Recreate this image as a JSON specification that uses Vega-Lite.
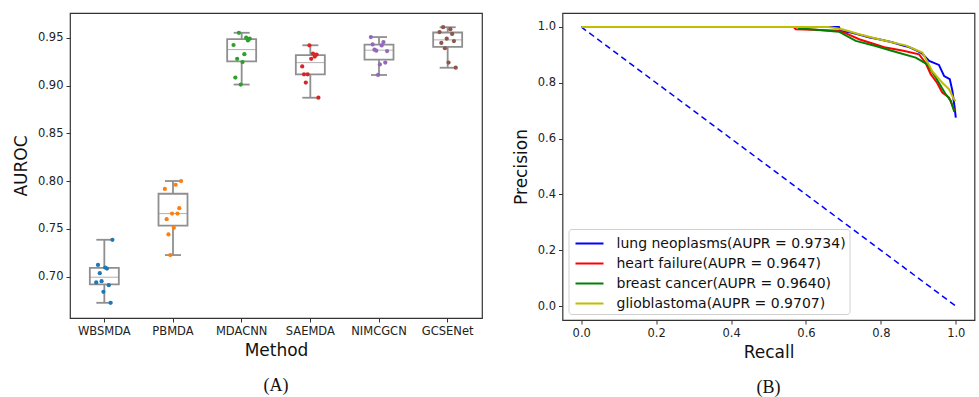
{
  "$schema": "https://vega.github.io/schema/vega-lite/v6.json",
  "background": "white",
  "padding": {"left": 11, "top": 12, "right": 2, "bottom": 0},
  "spacing": 28.5,
  "resolve": {"scale": {"color": "independent"}, "legend": {"color": "independent"}},
  "datasets": {
    "auroc": [
      {"method": "WBSMDA", "run": 1, "auroc": 0.6938},
      {"method": "WBSMDA", "run": 2, "auroc": 0.7121},
      {"method": "WBSMDA", "run": 3, "auroc": 0.7035},
      {"method": "WBSMDA", "run": 4, "auroc": 0.6951},
      {"method": "WBSMDA", "run": 5, "auroc": 0.6840},
      {"method": "WBSMDA", "run": 6, "auroc": 0.7094},
      {"method": "WBSMDA", "run": 7, "auroc": 0.7083},
      {"method": "WBSMDA", "run": 8, "auroc": 0.6910},
      {"method": "WBSMDA", "run": 9, "auroc": 0.6725},
      {"method": "WBSMDA", "run": 10, "auroc": 0.7385},
      {"method": "PBMDA", "run": 1, "auroc": 0.7917},
      {"method": "PBMDA", "run": 2, "auroc": 0.7600},
      {"method": "PBMDA", "run": 3, "auroc": 0.7441},
      {"method": "PBMDA", "run": 4, "auroc": 0.7225},
      {"method": "PBMDA", "run": 5, "auroc": 0.7659},
      {"method": "PBMDA", "run": 6, "auroc": 0.7510},
      {"method": "PBMDA", "run": 7, "auroc": 0.7961},
      {"method": "PBMDA", "run": 8, "auroc": 0.7659},
      {"method": "PBMDA", "run": 9, "auroc": 0.7715},
      {"method": "PBMDA", "run": 10, "auroc": 0.8000},
      {"method": "MDACNN", "run": 1, "auroc": 0.9424},
      {"method": "MDACNN", "run": 2, "auroc": 0.9083},
      {"method": "MDACNN", "run": 3, "auroc": 0.9279},
      {"method": "MDACNN", "run": 4, "auroc": 0.9552},
      {"method": "MDACNN", "run": 5, "auroc": 0.9010},
      {"method": "MDACNN", "run": 6, "auroc": 0.9245},
      {"method": "MDACNN", "run": 7, "auroc": 0.9328},
      {"method": "MDACNN", "run": 8, "auroc": 0.9500},
      {"method": "MDACNN", "run": 9, "auroc": 0.9472},
      {"method": "MDACNN", "run": 10, "auroc": 0.9490},
      {"method": "SAEMDA", "run": 1, "auroc": 0.9200},
      {"method": "SAEMDA", "run": 2, "auroc": 0.9117},
      {"method": "SAEMDA", "run": 3, "auroc": 0.9031},
      {"method": "SAEMDA", "run": 4, "auroc": 0.9117},
      {"method": "SAEMDA", "run": 5, "auroc": 0.9421},
      {"method": "SAEMDA", "run": 6, "auroc": 0.9279},
      {"method": "SAEMDA", "run": 7, "auroc": 0.9334},
      {"method": "SAEMDA", "run": 8, "auroc": 0.9303},
      {"method": "SAEMDA", "run": 9, "auroc": 0.9324},
      {"method": "SAEMDA", "run": 10, "auroc": 0.8872},
      {"method": "NIMCGCN", "run": 1, "auroc": 0.9507},
      {"method": "NIMCGCN", "run": 2, "auroc": 0.9430},
      {"method": "NIMCGCN", "run": 3, "auroc": 0.9375},
      {"method": "NIMCGCN", "run": 4, "auroc": 0.9365},
      {"method": "NIMCGCN", "run": 5, "auroc": 0.9110},
      {"method": "NIMCGCN", "run": 6, "auroc": 0.9220},
      {"method": "NIMCGCN", "run": 7, "auroc": 0.9420},
      {"method": "NIMCGCN", "run": 8, "auroc": 0.9455},
      {"method": "NIMCGCN", "run": 9, "auroc": 0.9240},
      {"method": "NIMCGCN", "run": 10, "auroc": 0.9360},
      {"method": "GCSENet", "run": 1, "auroc": 0.9560},
      {"method": "GCSENet", "run": 2, "auroc": 0.9445},
      {"method": "GCSENet", "run": 3, "auroc": 0.9610},
      {"method": "GCSENet", "run": 4, "auroc": 0.9390},
      {"method": "GCSENet", "run": 5, "auroc": 0.9490},
      {"method": "GCSENet", "run": 6, "auroc": 0.9240},
      {"method": "GCSENet", "run": 7, "auroc": 0.9590},
      {"method": "GCSENet", "run": 8, "auroc": 0.9540},
      {"method": "GCSENet", "run": 9, "auroc": 0.9465},
      {"method": "GCSENet", "run": 10, "auroc": 0.9186}
    ],
    "diag": [
      {"recall": 0.0, "precision": 1.0},
      {"recall": 1.0, "precision": 0.0}
    ],
    "pr": [
      {"curve": "lung neoplasms(AUPR = 0.9734)", "recall": 0.0, "precision": 1.0},
      {"curve": "lung neoplasms(AUPR = 0.9734)", "recall": 0.688, "precision": 1.0},
      {"curve": "lung neoplasms(AUPR = 0.9734)", "recall": 0.693, "precision": 0.986},
      {"curve": "lung neoplasms(AUPR = 0.9734)", "recall": 0.72, "precision": 0.98},
      {"curve": "lung neoplasms(AUPR = 0.9734)", "recall": 0.746, "precision": 0.971},
      {"curve": "lung neoplasms(AUPR = 0.9734)", "recall": 0.77, "precision": 0.962},
      {"curve": "lung neoplasms(AUPR = 0.9734)", "recall": 0.795, "precision": 0.956},
      {"curve": "lung neoplasms(AUPR = 0.9734)", "recall": 0.83, "precision": 0.945},
      {"curve": "lung neoplasms(AUPR = 0.9734)", "recall": 0.857, "precision": 0.934},
      {"curve": "lung neoplasms(AUPR = 0.9734)", "recall": 0.875, "precision": 0.928},
      {"curve": "lung neoplasms(AUPR = 0.9734)", "recall": 0.893, "precision": 0.917},
      {"curve": "lung neoplasms(AUPR = 0.9734)", "recall": 0.91, "precision": 0.905},
      {"curve": "lung neoplasms(AUPR = 0.9734)", "recall": 0.929, "precision": 0.878},
      {"curve": "lung neoplasms(AUPR = 0.9734)", "recall": 0.955, "precision": 0.864},
      {"curve": "lung neoplasms(AUPR = 0.9734)", "recall": 0.969, "precision": 0.824},
      {"curve": "lung neoplasms(AUPR = 0.9734)", "recall": 0.984, "precision": 0.813},
      {"curve": "lung neoplasms(AUPR = 0.9734)", "recall": 0.991, "precision": 0.771},
      {"curve": "lung neoplasms(AUPR = 0.9734)", "recall": 0.997, "precision": 0.711},
      {"curve": "lung neoplasms(AUPR = 0.9734)", "recall": 1.0, "precision": 0.675},
      {"curve": "heart failure(AUPR = 0.9647)", "recall": 0.0, "precision": 1.0},
      {"curve": "heart failure(AUPR = 0.9647)", "recall": 0.567, "precision": 1.0},
      {"curve": "heart failure(AUPR = 0.9647)", "recall": 0.573, "precision": 0.992},
      {"curve": "heart failure(AUPR = 0.9647)", "recall": 0.62, "precision": 0.99},
      {"curve": "heart failure(AUPR = 0.9647)", "recall": 0.688, "precision": 0.986},
      {"curve": "heart failure(AUPR = 0.9647)", "recall": 0.71, "precision": 0.975},
      {"curve": "heart failure(AUPR = 0.9647)", "recall": 0.742, "precision": 0.956},
      {"curve": "heart failure(AUPR = 0.9647)", "recall": 0.78, "precision": 0.94},
      {"curve": "heart failure(AUPR = 0.9647)", "recall": 0.813, "precision": 0.926},
      {"curve": "heart failure(AUPR = 0.9647)", "recall": 0.86, "precision": 0.915},
      {"curve": "heart failure(AUPR = 0.9647)", "recall": 0.902, "precision": 0.902},
      {"curve": "heart failure(AUPR = 0.9647)", "recall": 0.92, "precision": 0.87},
      {"curve": "heart failure(AUPR = 0.9647)", "recall": 0.933, "precision": 0.831},
      {"curve": "heart failure(AUPR = 0.9647)", "recall": 0.95, "precision": 0.8},
      {"curve": "heart failure(AUPR = 0.9647)", "recall": 0.964, "precision": 0.765},
      {"curve": "heart failure(AUPR = 0.9647)", "recall": 0.982, "precision": 0.747},
      {"curve": "heart failure(AUPR = 0.9647)", "recall": 0.995, "precision": 0.705},
      {"curve": "heart failure(AUPR = 0.9647)", "recall": 1.0, "precision": 0.7},
      {"curve": "breast cancer(AUPR = 0.9640)", "recall": 0.0, "precision": 1.0},
      {"curve": "breast cancer(AUPR = 0.9640)", "recall": 0.58, "precision": 1.0},
      {"curve": "breast cancer(AUPR = 0.9640)", "recall": 0.581, "precision": 0.995},
      {"curve": "breast cancer(AUPR = 0.9640)", "recall": 0.688, "precision": 0.983},
      {"curve": "breast cancer(AUPR = 0.9640)", "recall": 0.733, "precision": 0.95},
      {"curve": "breast cancer(AUPR = 0.9640)", "recall": 0.786, "precision": 0.932},
      {"curve": "breast cancer(AUPR = 0.9640)", "recall": 0.831, "precision": 0.914},
      {"curve": "breast cancer(AUPR = 0.9640)", "recall": 0.893, "precision": 0.89},
      {"curve": "breast cancer(AUPR = 0.9640)", "recall": 0.924, "precision": 0.866},
      {"curve": "breast cancer(AUPR = 0.9640)", "recall": 0.947, "precision": 0.818},
      {"curve": "breast cancer(AUPR = 0.9640)", "recall": 0.973, "precision": 0.759},
      {"curve": "breast cancer(AUPR = 0.9640)", "recall": 0.987, "precision": 0.735},
      {"curve": "breast cancer(AUPR = 0.9640)", "recall": 0.995, "precision": 0.7},
      {"curve": "breast cancer(AUPR = 0.9640)", "recall": 1.0, "precision": 0.705},
      {"curve": "glioblastoma(AUPR = 0.9707)", "recall": 0.0, "precision": 1.0},
      {"curve": "glioblastoma(AUPR = 0.9707)", "recall": 0.66, "precision": 1.0},
      {"curve": "glioblastoma(AUPR = 0.9707)", "recall": 0.697, "precision": 0.992},
      {"curve": "glioblastoma(AUPR = 0.9707)", "recall": 0.742, "precision": 0.974},
      {"curve": "glioblastoma(AUPR = 0.9707)", "recall": 0.795, "precision": 0.956},
      {"curve": "glioblastoma(AUPR = 0.9707)", "recall": 0.866, "precision": 0.934},
      {"curve": "glioblastoma(AUPR = 0.9707)", "recall": 0.911, "precision": 0.908},
      {"curve": "glioblastoma(AUPR = 0.9707)", "recall": 0.937, "precision": 0.842},
      {"curve": "glioblastoma(AUPR = 0.9707)", "recall": 0.964, "precision": 0.8},
      {"curve": "glioblastoma(AUPR = 0.9707)", "recall": 0.982, "precision": 0.777},
      {"curve": "glioblastoma(AUPR = 0.9707)", "recall": 0.995, "precision": 0.741},
      {"curve": "glioblastoma(AUPR = 0.9707)", "recall": 1.0, "precision": 0.735}
    ]
  },
  "hconcat": [
    {
      "width": 412,
      "height": 305,
      "data": {"name": "auroc"},
      "title": {"text": "(A)", "orient": "bottom", "anchor": "middle", "frame": "group", "font": "Liberation Serif", "fontSize": 18, "fontWeight": "normal", "color": "#111", "offset": 18},
      "encoding": {
        "x": {
          "field": "method", "type": "nominal",
          "sort": ["WBSMDA", "PBMDA", "MDACNN", "SAEMDA", "NIMCGCN", "GCSENet"],
          "scale": {"paddingInner": 0, "paddingOuter": 0},
          "axis": {"title": "Method", "labelAngle": 0, "titlePadding": 6}
        }
      },
      "layer": [
        {
          "mark": {
            "type": "boxplot", "extent": "min-max", "size": 29,
            "box": {"fill": "white", "stroke": "#8f8f8f", "strokeWidth": 1.8},
            "median": {"color": "#8f8f8f", "strokeWidth": 1.8},
            "rule": {"color": "#8f8f8f", "strokeWidth": 1.8},
            "ticks": {"color": "#8f8f8f", "size": 16, "thickness": 1.8}
          },
          "encoding": {
            "y": {
              "field": "auroc", "type": "quantitative",
              "scale": {"domain": [0.6566, 0.9759], "nice": false, "zero": false},
              "axis": {"title": "AUROC", "values": [0.7, 0.75, 0.8, 0.85, 0.9, 0.95], "format": ".2f", "titlePadding": 7}
            }
          }
        },
        {
          "mark": {"type": "circle", "size": 18, "opacity": 1},
          "encoding": {
            "y": {"field": "auroc", "type": "quantitative"},
            "xOffset": {"field": "run", "type": "ordinal", "scale": {"range": [25.3, 43.3]}},
            "color": {
              "field": "method", "type": "nominal",
              "scale": {"domain": ["WBSMDA", "PBMDA", "MDACNN", "SAEMDA", "NIMCGCN", "GCSENet"], "range": ["#1f77b4", "#ff7f0e", "#2ca02c", "#d62728", "#9467bd", "#8c564b"]},
              "legend": null
            }
          }
        }
      ]
    },
    {
      "width": 412,
      "height": 307,
      "title": {"text": "(B)", "orient": "bottom", "anchor": "middle", "frame": "group", "font": "Liberation Serif", "fontSize": 18, "fontWeight": "normal", "color": "#111", "offset": 18},
      "layer": [
        {
          "data": {"name": "diag"},
          "mark": {"type": "line", "color": "#0000ff", "strokeDash": [6, 4], "strokeWidth": 1.5},
          "encoding": {
            "x": {"field": "recall", "type": "quantitative", "scale": {"domain": [-0.05, 1.05], "nice": false, "zero": false}, "axis": {"title": "Recall", "values": [0, 0.2, 0.4, 0.6, 0.8, 1.0], "format": ".1f", "titlePadding": 6}},
            "y": {"field": "precision", "type": "quantitative", "scale": {"domain": [-0.05, 1.05], "nice": false, "zero": false}, "axis": {"title": "Precision", "values": [0, 0.2, 0.4, 0.6, 0.8, 1.0], "format": ".1f", "titlePadding": 7}}
          }
        },
        {
          "data": {"name": "pr"},
          "mark": {"type": "line", "strokeWidth": 2},
          "encoding": {
            "x": {"field": "recall", "type": "quantitative"},
            "y": {"field": "precision", "type": "quantitative"},
            "color": {
              "field": "curve", "type": "nominal",
              "scale": {"domain": ["lung neoplasms(AUPR = 0.9734)", "heart failure(AUPR = 0.9647)", "breast cancer(AUPR = 0.9640)", "glioblastoma(AUPR = 0.9707)"], "range": ["#0000ff", "#ff0000", "#008000", "#bfbf00"]},
              "legend": {"title": null, "orient": "bottom-left", "offset": 6, "rowPadding": 1}
            }
          }
        }
      ]
    }
  ],
  "config": {
    "font": "DejaVu Sans",
    "view": {"stroke": "#333", "strokeWidth": 1.2},
    "axis": {
      "domain": false, "grid": false,
      "labelFont": "DejaVu Sans", "labelFontSize": 11.5, "labelColor": "#222",
      "titleFont": "DejaVu Sans", "titleFontSize": 17, "titleFontWeight": "normal", "titleColor": "#111",
      "tickColor": "#333", "tickSize": 4, "labelPadding": 3, "titlePadding": 4
    },
    "legend": {
      "labelFont": "DejaVu Sans", "labelFontSize": 14, "labelColor": "#111", "labelLimit": 400,
      "symbolType": "M-0.714,0H1.952", "symbolStrokeWidth": 2, "symbolSize": 441, "symbolFillColor": "transparent",
      "labelOffset": 22, "padding": 3,
      "strokeColor": "#d0d0d0", "fillColor": "white", "cornerRadius": 3
    }
  }
}
